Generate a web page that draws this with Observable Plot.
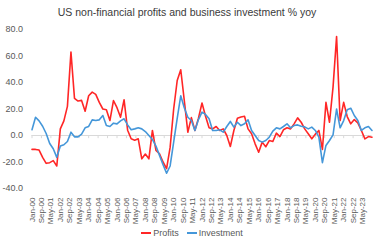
<!DOCTYPE html>
<html>
<head>
<meta charset="utf-8">
<script src="https://cdn.jsdelivr.net/npm/d3@7"></script>
<script src="https://cdn.jsdelivr.net/npm/@observablehq/plot@0.6"></script>
<style>
  html, body { margin: 0; padding: 0; background: #fff; }
  body { width: 374px; height: 248px; overflow: hidden; font-family: "Liberation Sans", Arial, sans-serif; }
  #title { height: 24px; line-height: 24px; text-align: center; font-size: 10.5px; color: #3a3a3a; white-space: nowrap; }
  #legend { height: 10px; line-height: 10px; font-size: 9px; color: #595959; display: flex; justify-content: center; gap: 8px; padding-left: 10px; }
  #legend span.item { display: inline-flex; align-items: center; }
  #legend span.sw { display: inline-block; width: 10px; height: 2px; margin-right: 2px; }
</style>
</head>
<body>
<div id="title">US non-financial profits and business investment % yoy</div>
<div id="chart"></div>
<div id="legend"></div>
<script>
// Quarterly observations, Q1-2000 onward (x = months since Jan-00)
const profits = [
  -10.5, -10.5, -11, -16.5, -21, -20.5, -19, -23, 5, 11, 22, 63,
  28, 26, 26.5, 18.3, 30, 32.7, 31, 25, 20, 19.5, 11.3, 26.4,
  21, 13.8, 27, 4, -2.5, -3.5, -2.5, -17.6, -14, -17.6, 3.8, -11.3,
  -13.8, -20, -25, -9, 20, 41.5, 49.6, 26.4, 2.5, 13.5, 3.8, 13,
  24.5, 14.5, 5.8, 5, 6.8, 3.8, 5, 0, -8.3, 3.8, 13, 14,
  14.5, 5, 1.3, -6.3, -12.6, -5, -8.5, -3.8, -4.5, 1.8, -0.8, 4.3,
  5.8, 5, 8.8, 13.3, 10, 5, 1.3, -2.5, 1, 3.8, -10.5, 25,
  10, 36.5, 74.7, 11.3, 25, 14.3, 8.8, 12, 9.5, 3.8, -2.5, -0.8,
  -1.3
];
const investment = [
  4.3, 13.8, 11, 7, 1.5, -6, -10, -16.5, -8, -7, -4.5, 2.5,
  -1, -1, 1, 5.8, 6.8, 11.8, 11.3, 11.8, 15.1, 7.5, 6.8, 9.3,
  8.8, 11, 12.6, 8, 4.3, 5, 5.8, 5, 3, 0, -3, -8,
  -15, -22, -28.5, -23, -5, 13, 30, 21, 13.8, 11.3, 3.8, 12,
  17.6, 15.9, 12.6, 3.8, 3.8, 4.3, 2.5, 6.8, 10.6, 6.3, 10, 7.5,
  8.8, 11.8, 3.8, 0, -3.8, -5, -3.8, -1.3, 3.3, 5.8, 5, 6.8,
  8.8, 5.8, 7.5, 8, 7, 6.5, 5, 6.3, 3.8, -1.3, -20.5, -7.5,
  -3.8, 0.5, 20, 5.8, 11.3, 19.4, 20.6, 15.1, 11.3, 3.8, 5.8, 6.8,
  3.8
];
const tickLabels = [
  "Jan-00","Sep-00","May-01","Jan-02","Sep-02","May-03","Jan-04","Sep-04","May-05",
  "Jan-06","Sep-06","May-07","Jan-08","Sep-08","May-09","Jan-10","Sep-10","May-11",
  "Jan-12","Sep-12","May-13","Jan-14","Sep-14","May-15","Jan-16","Sep-16","May-17",
  "Jan-18","Sep-18","May-19","Jan-20","Sep-20","May-21","Jan-22","Sep-22","May-23"
];
const yTicks = [-40, -20, 0, 20, 40, 60, 80];
const seriesNames = ["Profits", "Investment"];
const seriesColors = ["#ff2626", "#4597d9"];

const tickMonths = tickLabels.map((_, i) => i * 8);
const labelOf = new Map(tickMonths.map((m, i) => [m, tickLabels[i]]));
const rows = profits.map((p, i) => ({m: i * 3, profits: p, investment: investment[i]}));

const chart = Plot.plot({
  width: 374,
  height: 204,
  marginTop: 5,
  marginBottom: 40,
  marginLeft: 31.5,
  marginRight: 2.5,
  style: {fontFamily: "'Liberation Sans', Arial, sans-serif", color: "#595959", background: "#fff"},
  x: {domain: [0, 288], label: null},
  y: {domain: [-40, 80], label: null},
  marks: [
    Plot.ruleY([0], {stroke: "#d9d9d9", strokeWidth: 1}),
    Plot.ruleX(tickMonths, {x: d => d, y1: 0, y2: -2.4, stroke: "#d9d9d9"}),
    Plot.axisY(yTicks, {tickFormat: d => d.toFixed(1), tickSize: 0, tickPadding: 9, fontSize: 9, label: null}),
    Plot.axisX(tickMonths, {tickFormat: d => labelOf.get(d), tickRotate: -90, tickSize: 0, tickPadding: 9, fontSize: 8, label: null}),
    Plot.line(rows, {x: "m", y: "profits", stroke: seriesColors[0], strokeWidth: 1.6}),
    Plot.line(rows, {x: "m", y: "investment", stroke: seriesColors[1], strokeWidth: 1.6})
  ]
});
document.getElementById("chart").appendChild(chart);

const legend = document.getElementById("legend");
seriesNames.forEach((name, i) => {
  const item = document.createElement("span");
  item.className = "item";
  const sw = document.createElement("span");
  sw.className = "sw";
  sw.style.background = seriesColors[i];
  item.appendChild(sw);
  item.appendChild(document.createTextNode(name));
  legend.appendChild(item);
});
</script>
</body>
</html>
